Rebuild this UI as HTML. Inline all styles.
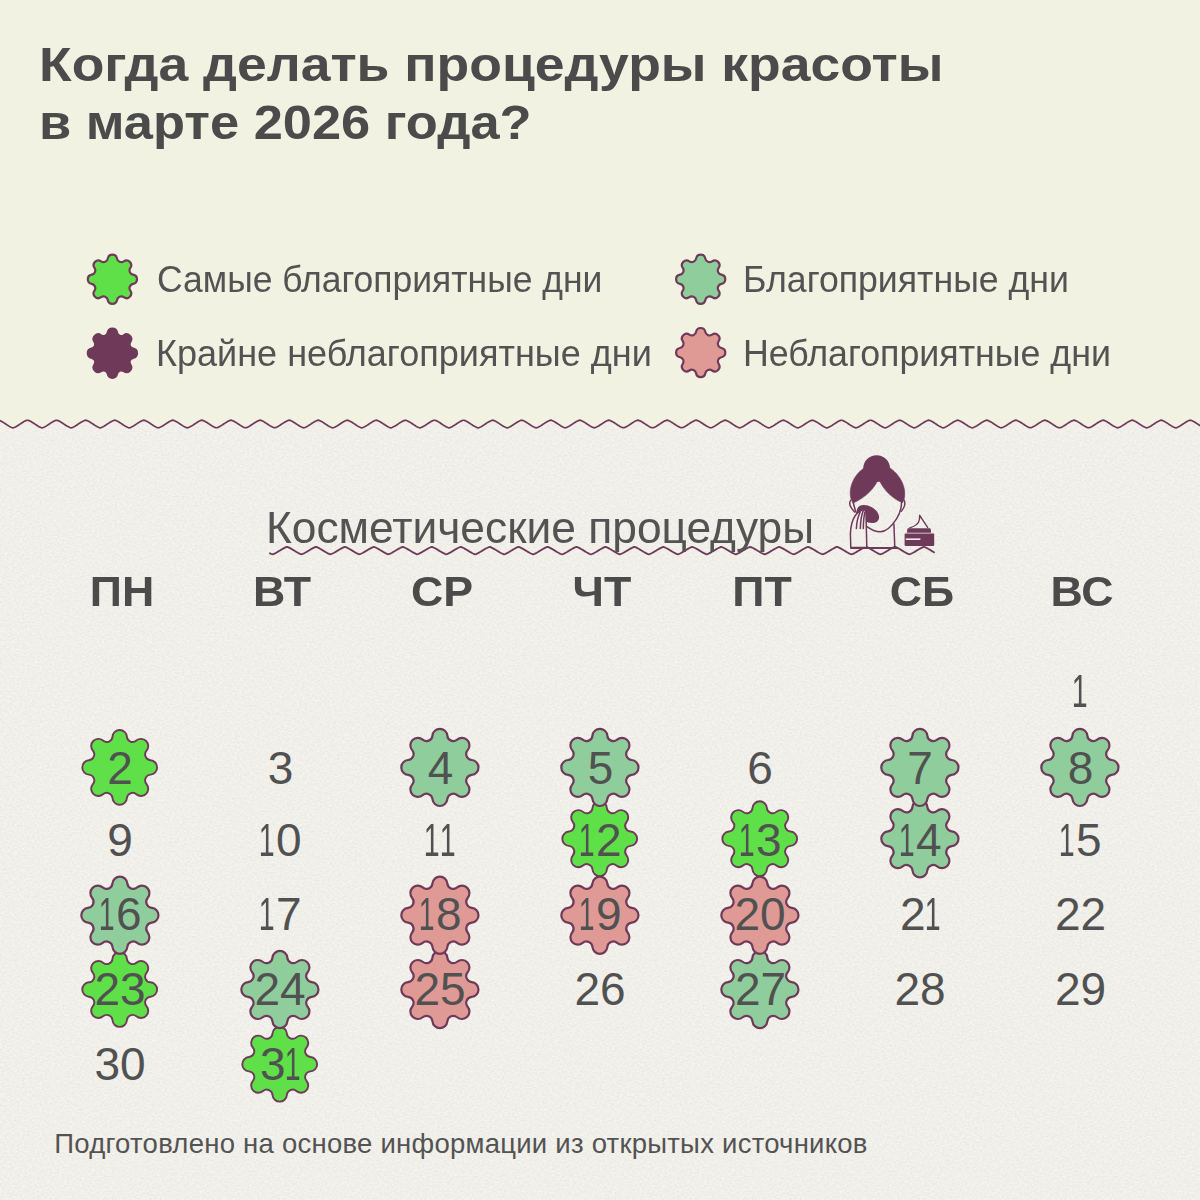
<!DOCTYPE html>
<html lang="ru"><head><meta charset="utf-8"><title>Когда делать процедуры красоты в марте 2026 года?</title>
<style>
html,body{margin:0;padding:0}
body{width:1200px;height:1200px;position:relative;overflow:hidden;background:#f1f2e2;font-family:"Liberation Sans",sans-serif;color:#4b4b4b}
svg.l{position:absolute;left:0;top:0}
.t{position:absolute;white-space:nowrap;transform-origin:0 0;line-height:1}
.wd{position:absolute;top:569.76px;width:100px;text-align:center;font-weight:bold;font-size:43px;line-height:1;white-space:nowrap;transform:scaleX(1.04)}
.o{display:inline-block;transform:scaleX(.62);margin:0 -4px 0 -6px}
.n{position:absolute;color:#515151;width:100px;line-height:1;text-align:center;font-size:46px;white-space:nowrap}
</style></head><body>
<svg class="l" width="1200" height="1200" viewBox="0 0 1200 1200">
<defs><filter id="paper" x="0" y="0" width="100%" height="100%" color-interpolation-filters="sRGB"><feTurbulence type="fractalNoise" baseFrequency="0.4 0.55" numOctaves="2" seed="7"/><feColorMatrix type="matrix" values="0.08 0 0 0 0.905  0.08 0 0 0 0.897  0.08 0 0 0 0.874  0 0 0 0 1"/></filter>
<clipPath id="botclip"><path d="M-2.0,420.23 L-1.0,420.28 L0.0,420.66 L1.0,421.12 L2.0,421.65 L3.0,422.24 L4.0,422.87 L5.0,423.53 L6.0,424.20 L7.0,424.87 L8.0,425.52 L9.0,426.12 L10.0,426.68 L11.0,427.16 L12.0,427.58 L13.0,427.89 L14.0,427.55 L15.0,427.13 L16.0,426.64 L17.0,426.08 L18.0,425.47 L19.0,424.83 L20.0,424.16 L21.0,423.48 L22.0,422.82 L23.0,422.19 L24.0,421.61 L25.0,421.09 L26.0,420.63 L27.0,420.26 L28.0,420.26 L29.0,420.63 L30.0,421.09 L31.0,421.61 L32.0,422.19 L33.0,422.82 L34.0,423.48 L35.0,424.16 L36.0,424.83 L37.0,425.47 L38.0,426.08 L39.0,426.64 L40.0,427.13 L41.0,427.55 L42.0,427.89 L43.0,427.58 L44.0,427.16 L45.0,426.68 L46.0,426.12 L47.0,425.52 L48.0,424.87 L49.0,424.20 L50.0,423.53 L51.0,422.87 L52.0,422.24 L53.0,421.65 L54.0,421.12 L55.0,420.66 L56.0,420.28 L57.0,420.23 L58.0,420.61 L59.0,421.05 L60.0,421.57 L61.0,422.15 L62.0,422.78 L63.0,423.44 L64.0,424.11 L65.0,424.78 L66.0,425.43 L67.0,426.04 L68.0,426.60 L69.0,427.10 L70.0,427.52 L71.0,427.87 L72.0,427.60 L73.0,427.20 L74.0,426.71 L75.0,426.16 L76.0,425.56 L77.0,424.92 L78.0,424.25 L79.0,423.58 L80.0,422.91 L81.0,422.28 L82.0,421.69 L83.0,421.16 L84.0,420.69 L85.0,420.31 L86.0,420.21 L87.0,420.58 L88.0,421.02 L89.0,421.53 L90.0,422.11 L91.0,422.73 L92.0,423.39 L93.0,424.06 L94.0,424.73 L95.0,425.38 L96.0,426.00 L97.0,426.57 L98.0,427.07 L99.0,427.50 L100.0,427.85 L101.0,427.63 L102.0,427.23 L103.0,426.75 L104.0,426.20 L105.0,425.60 L106.0,424.96 L107.0,424.30 L108.0,423.62 L109.0,422.96 L110.0,422.32 L111.0,421.73 L112.0,421.19 L113.0,420.72 L114.0,420.33 L115.0,420.19 L116.0,420.55 L117.0,420.99 L118.0,421.50 L119.0,422.07 L120.0,422.69 L121.0,423.34 L122.0,424.02 L123.0,424.69 L124.0,425.34 L125.0,425.96 L126.0,426.53 L127.0,427.03 L128.0,427.47 L129.0,427.83 L130.0,427.65 L131.0,427.26 L132.0,426.78 L133.0,426.24 L134.0,425.65 L135.0,425.01 L136.0,424.35 L137.0,423.67 L138.0,423.01 L139.0,422.37 L140.0,421.77 L141.0,421.23 L142.0,420.75 L143.0,420.36 L144.0,420.17 L145.0,420.52 L146.0,420.95 L147.0,421.46 L148.0,422.03 L149.0,422.64 L150.0,423.30 L151.0,423.97 L152.0,424.64 L153.0,425.30 L154.0,425.92 L155.0,426.49 L156.0,427.00 L157.0,427.44 L158.0,427.80 L159.0,427.68 L160.0,427.29 L161.0,426.82 L162.0,426.28 L163.0,425.69 L164.0,425.06 L165.0,424.39 L166.0,423.72 L167.0,423.05 L168.0,422.41 L169.0,421.81 L170.0,421.26 L171.0,420.78 L172.0,420.38 L173.0,420.15 L174.0,420.49 L175.0,420.92 L176.0,421.42 L177.0,421.98 L178.0,422.60 L179.0,423.25 L180.0,423.92 L181.0,424.59 L182.0,425.25 L183.0,425.87 L184.0,426.45 L185.0,426.97 L186.0,427.41 L187.0,427.78 L188.0,427.70 L189.0,427.32 L190.0,426.86 L191.0,426.32 L192.0,425.73 L193.0,425.10 L194.0,424.44 L195.0,423.77 L196.0,423.10 L197.0,422.45 L198.0,421.85 L199.0,421.30 L200.0,420.82 L201.0,420.41 L202.0,420.12 L203.0,420.47 L204.0,420.89 L205.0,421.38 L206.0,421.94 L207.0,422.56 L208.0,423.20 L209.0,423.87 L210.0,424.55 L211.0,425.21 L212.0,425.83 L213.0,426.41 L214.0,426.93 L215.0,427.38 L216.0,427.76 L217.0,427.73 L218.0,427.35 L219.0,426.89 L220.0,426.36 L221.0,425.78 L222.0,425.15 L223.0,424.49 L224.0,423.81 L225.0,423.14 L226.0,422.50 L227.0,421.89 L228.0,421.34 L229.0,420.85 L230.0,420.43 L231.0,420.10 L232.0,420.44 L233.0,420.86 L234.0,421.35 L235.0,421.90 L236.0,422.51 L237.0,423.16 L238.0,423.83 L239.0,424.50 L240.0,425.16 L241.0,425.79 L242.0,426.37 L243.0,426.90 L244.0,427.36 L245.0,427.73 L246.0,427.75 L247.0,427.38 L248.0,426.92 L249.0,426.40 L250.0,425.82 L251.0,425.19 L252.0,424.53 L253.0,423.86 L254.0,423.19 L255.0,422.54 L256.0,421.93 L257.0,421.37 L258.0,420.88 L259.0,420.46 L260.0,420.12 L261.0,420.41 L262.0,420.82 L263.0,421.31 L264.0,421.86 L265.0,422.47 L266.0,423.11 L267.0,423.78 L268.0,424.45 L269.0,425.11 L270.0,425.75 L271.0,426.34 L272.0,426.87 L273.0,427.33 L274.0,427.71 L275.0,427.77 L276.0,427.41 L277.0,426.96 L278.0,426.44 L279.0,425.86 L280.0,425.24 L281.0,424.58 L282.0,423.91 L283.0,423.24 L284.0,422.59 L285.0,421.97 L286.0,421.41 L287.0,420.91 L288.0,420.49 L289.0,420.14 L290.0,420.39 L291.0,420.79 L292.0,421.27 L293.0,421.82 L294.0,422.42 L295.0,423.07 L296.0,423.73 L297.0,424.41 L298.0,425.07 L299.0,425.70 L300.0,426.30 L301.0,426.83 L302.0,427.30 L303.0,427.69 L304.0,427.80 L305.0,427.43 L306.0,426.99 L307.0,426.48 L308.0,425.90 L309.0,425.28 L310.0,424.63 L311.0,423.95 L312.0,423.28 L313.0,422.63 L314.0,422.01 L315.0,421.45 L316.0,420.94 L317.0,420.51 L318.0,420.16 L319.0,420.36 L320.0,420.76 L321.0,421.24 L322.0,421.78 L323.0,422.38 L324.0,423.02 L325.0,423.68 L326.0,424.36 L327.0,425.02 L328.0,425.66 L329.0,426.26 L330.0,426.79 L331.0,427.27 L332.0,427.66 L333.0,427.82 L334.0,427.46 L335.0,427.03 L336.0,426.52 L337.0,425.95 L338.0,425.33 L339.0,424.67 L340.0,424.00 L341.0,423.33 L342.0,422.68 L343.0,422.06 L344.0,421.49 L345.0,420.98 L346.0,420.54 L347.0,420.18 L348.0,420.34 L349.0,420.73 L350.0,421.20 L351.0,421.74 L352.0,422.34 L353.0,422.97 L354.0,423.64 L355.0,424.31 L356.0,424.98 L357.0,425.62 L358.0,426.22 L359.0,426.76 L360.0,427.24 L361.0,427.64 L362.0,427.84 L363.0,427.49 L364.0,427.06 L365.0,426.55 L366.0,425.99 L367.0,425.37 L368.0,424.72 L369.0,424.05 L370.0,423.38 L371.0,422.72 L372.0,422.10 L373.0,421.52 L374.0,421.01 L375.0,420.57 L376.0,420.21 L377.0,420.31 L378.0,420.70 L379.0,421.17 L380.0,421.70 L381.0,422.29 L382.0,422.93 L383.0,423.59 L384.0,424.26 L385.0,424.93 L386.0,425.57 L387.0,426.18 L388.0,426.72 L389.0,427.20 L390.0,427.61 L391.0,427.86 L392.0,427.52 L393.0,427.09 L394.0,426.59 L395.0,426.03 L396.0,425.42 L397.0,424.77 L398.0,424.10 L399.0,423.42 L400.0,422.77 L401.0,422.14 L402.0,421.56 L403.0,421.04 L404.0,420.60 L405.0,420.23 L406.0,420.29 L407.0,420.67 L408.0,421.13 L409.0,421.66 L410.0,422.25 L411.0,422.88 L412.0,423.54 L413.0,424.22 L414.0,424.89 L415.0,425.53 L416.0,426.14 L417.0,426.69 L418.0,427.17 L419.0,427.58 L420.0,427.88 L421.0,427.54 L422.0,427.12 L423.0,426.63 L424.0,426.07 L425.0,425.46 L426.0,424.81 L427.0,424.14 L428.0,423.47 L429.0,422.81 L430.0,422.18 L431.0,421.60 L432.0,421.08 L433.0,420.63 L434.0,420.25 L435.0,420.26 L436.0,420.64 L437.0,421.10 L438.0,421.62 L439.0,422.21 L440.0,422.84 L441.0,423.50 L442.0,424.17 L443.0,424.84 L444.0,425.49 L445.0,426.09 L446.0,426.65 L447.0,427.14 L448.0,427.56 L449.0,427.90 L450.0,427.57 L451.0,427.16 L452.0,426.67 L453.0,426.11 L454.0,425.50 L455.0,424.86 L456.0,424.19 L457.0,423.52 L458.0,422.86 L459.0,422.23 L460.0,421.64 L461.0,421.11 L462.0,420.66 L463.0,420.27 L464.0,420.24 L465.0,420.61 L466.0,421.06 L467.0,421.58 L468.0,422.16 L469.0,422.79 L470.0,423.45 L471.0,424.12 L472.0,424.79 L473.0,425.44 L474.0,426.05 L475.0,426.61 L476.0,427.11 L477.0,427.53 L478.0,427.87 L479.0,427.60 L480.0,427.19 L481.0,426.70 L482.0,426.15 L483.0,425.55 L484.0,424.90 L485.0,424.24 L486.0,423.56 L487.0,422.90 L488.0,422.27 L489.0,421.68 L490.0,421.15 L491.0,420.68 L492.0,420.30 L493.0,420.22 L494.0,420.58 L495.0,421.03 L496.0,421.55 L497.0,422.12 L498.0,422.75 L499.0,423.40 L500.0,424.08 L501.0,424.75 L502.0,425.40 L503.0,426.01 L504.0,426.58 L505.0,427.08 L506.0,427.50 L507.0,427.85 L508.0,427.62 L509.0,427.22 L510.0,426.74 L511.0,426.19 L512.0,425.59 L513.0,424.95 L514.0,424.28 L515.0,423.61 L516.0,422.95 L517.0,422.31 L518.0,421.72 L519.0,421.18 L520.0,420.71 L521.0,420.32 L522.0,420.20 L523.0,420.56 L524.0,421.00 L525.0,421.51 L526.0,422.08 L527.0,422.70 L528.0,423.36 L529.0,424.03 L530.0,424.70 L531.0,425.35 L532.0,425.97 L533.0,426.54 L534.0,427.04 L535.0,427.48 L536.0,427.83 L537.0,427.65 L538.0,427.25 L539.0,426.77 L540.0,426.23 L541.0,425.64 L542.0,425.00 L543.0,424.33 L544.0,423.66 L545.0,422.99 L546.0,422.35 L547.0,421.76 L548.0,421.22 L549.0,420.74 L550.0,420.35 L551.0,420.17 L552.0,420.53 L553.0,420.96 L554.0,421.47 L555.0,422.04 L556.0,422.66 L557.0,423.31 L558.0,423.98 L559.0,424.65 L560.0,425.31 L561.0,425.93 L562.0,426.50 L563.0,427.01 L564.0,427.45 L565.0,427.81 L566.0,427.67 L567.0,427.28 L568.0,426.81 L569.0,426.27 L570.0,425.68 L571.0,425.04 L572.0,424.38 L573.0,423.71 L574.0,423.04 L575.0,422.40 L576.0,421.80 L577.0,421.25 L578.0,420.78 L579.0,420.37 L580.0,420.15 L581.0,420.50 L582.0,420.93 L583.0,421.43 L584.0,422.00 L585.0,422.61 L586.0,423.26 L587.0,423.93 L588.0,424.61 L589.0,425.26 L590.0,425.89 L591.0,426.46 L592.0,426.98 L593.0,427.42 L594.0,427.79 L595.0,427.70 L596.0,427.31 L597.0,426.85 L598.0,426.31 L599.0,425.72 L600.0,425.09 L601.0,424.43 L602.0,423.75 L603.0,423.09 L604.0,422.44 L605.0,421.84 L606.0,421.29 L607.0,420.81 L608.0,420.40 L609.0,420.13 L610.0,420.47 L611.0,420.90 L612.0,421.39 L613.0,421.96 L614.0,422.57 L615.0,423.22 L616.0,423.89 L617.0,424.56 L618.0,425.22 L619.0,425.84 L620.0,426.42 L621.0,426.94 L622.0,427.39 L623.0,427.76 L624.0,427.72 L625.0,427.34 L626.0,426.88 L627.0,426.35 L628.0,425.77 L629.0,425.13 L630.0,424.47 L631.0,423.80 L632.0,423.13 L633.0,422.49 L634.0,421.88 L635.0,421.33 L636.0,420.84 L637.0,420.42 L638.0,420.11 L639.0,420.45 L640.0,420.87 L641.0,421.36 L642.0,421.91 L643.0,422.52 L644.0,423.17 L645.0,423.84 L646.0,424.51 L647.0,425.17 L648.0,425.80 L649.0,426.39 L650.0,426.91 L651.0,427.36 L652.0,427.74 L653.0,427.74 L654.0,427.37 L655.0,426.91 L656.0,426.39 L657.0,425.81 L658.0,425.18 L659.0,424.52 L660.0,423.85 L661.0,423.18 L662.0,422.53 L663.0,421.92 L664.0,421.36 L665.0,420.87 L666.0,420.45 L667.0,420.11 L668.0,420.42 L669.0,420.83 L670.0,421.32 L671.0,421.87 L672.0,422.48 L673.0,423.12 L674.0,423.79 L675.0,424.47 L676.0,425.13 L677.0,425.76 L678.0,426.35 L679.0,426.88 L680.0,427.33 L681.0,427.72 L682.0,427.77 L683.0,427.40 L684.0,426.95 L685.0,426.43 L686.0,425.85 L687.0,425.22 L688.0,424.57 L689.0,423.89 L690.0,423.22 L691.0,422.57 L692.0,421.96 L693.0,421.40 L694.0,420.90 L695.0,420.48 L696.0,420.13 L697.0,420.40 L698.0,420.80 L699.0,421.28 L700.0,421.83 L701.0,422.44 L702.0,423.08 L703.0,423.75 L704.0,424.42 L705.0,425.08 L706.0,425.72 L707.0,426.31 L708.0,426.84 L709.0,427.30 L710.0,427.69 L711.0,427.79 L712.0,427.43 L713.0,426.98 L714.0,426.47 L715.0,425.89 L716.0,425.27 L717.0,424.61 L718.0,423.94 L719.0,423.27 L720.0,422.62 L721.0,422.00 L722.0,421.44 L723.0,420.93 L724.0,420.51 L725.0,420.15 L726.0,420.37 L727.0,420.77 L728.0,421.25 L729.0,421.79 L730.0,422.39 L731.0,423.03 L732.0,423.70 L733.0,424.37 L734.0,425.04 L735.0,425.67 L736.0,426.27 L737.0,426.81 L738.0,427.27 L739.0,427.67 L740.0,427.81 L741.0,427.45 L742.0,427.02 L743.0,426.51 L744.0,425.93 L745.0,425.31 L746.0,424.66 L747.0,423.99 L748.0,423.32 L749.0,422.66 L750.0,422.04 L751.0,421.47 L752.0,420.97 L753.0,420.53 L754.0,420.18 L755.0,420.34 L756.0,420.74 L757.0,421.21 L758.0,421.75 L759.0,422.35 L760.0,422.99 L761.0,423.65 L762.0,424.33 L763.0,424.99 L764.0,425.63 L765.0,426.23 L766.0,426.77 L767.0,427.24 L768.0,427.64 L769.0,427.83 L770.0,427.48 L771.0,427.05 L772.0,426.54 L773.0,425.98 L774.0,425.36 L775.0,424.71 L776.0,424.04 L777.0,423.36 L778.0,422.71 L779.0,422.09 L780.0,421.51 L781.0,421.00 L782.0,420.56 L783.0,420.20 L784.0,420.32 L785.0,420.71 L786.0,421.18 L787.0,421.71 L788.0,422.31 L789.0,422.94 L790.0,423.60 L791.0,424.28 L792.0,424.94 L793.0,425.59 L794.0,426.19 L795.0,426.73 L796.0,427.21 L797.0,427.62 L798.0,427.86 L799.0,427.51 L800.0,427.08 L801.0,426.58 L802.0,426.02 L803.0,425.40 L804.0,424.75 L805.0,424.08 L806.0,423.41 L807.0,422.75 L808.0,422.13 L809.0,421.55 L810.0,421.03 L811.0,420.59 L812.0,420.22 L813.0,420.30 L814.0,420.68 L815.0,421.14 L816.0,421.67 L817.0,422.26 L818.0,422.90 L819.0,423.56 L820.0,424.23 L821.0,424.90 L822.0,425.54 L823.0,426.15 L824.0,426.70 L825.0,427.18 L826.0,427.59 L827.0,427.88 L828.0,427.54 L829.0,427.11 L830.0,426.62 L831.0,426.06 L832.0,425.45 L833.0,424.80 L834.0,424.13 L835.0,423.46 L836.0,422.80 L837.0,422.17 L838.0,421.59 L839.0,421.07 L840.0,420.62 L841.0,420.24 L842.0,420.27 L843.0,420.65 L844.0,421.11 L845.0,421.63 L846.0,422.22 L847.0,422.85 L848.0,423.51 L849.0,424.18 L850.0,424.85 L851.0,425.50 L852.0,426.11 L853.0,426.66 L854.0,427.15 L855.0,427.57 L856.0,427.90 L857.0,427.56 L858.0,427.15 L859.0,426.66 L860.0,426.10 L861.0,425.49 L862.0,424.85 L863.0,424.18 L864.0,423.50 L865.0,422.84 L866.0,422.21 L867.0,421.63 L868.0,421.10 L869.0,420.65 L870.0,420.27 L871.0,420.25 L872.0,420.62 L873.0,421.07 L874.0,421.60 L875.0,422.18 L876.0,422.80 L877.0,423.46 L878.0,424.14 L879.0,424.81 L880.0,425.45 L881.0,426.07 L882.0,426.62 L883.0,427.12 L884.0,427.54 L885.0,427.88 L886.0,427.59 L887.0,427.18 L888.0,426.69 L889.0,426.14 L890.0,425.54 L891.0,424.89 L892.0,424.22 L893.0,423.55 L894.0,422.89 L895.0,422.26 L896.0,421.67 L897.0,421.14 L898.0,420.68 L899.0,420.29 L900.0,420.22 L901.0,420.59 L902.0,421.04 L903.0,421.56 L904.0,422.13 L905.0,422.76 L906.0,423.42 L907.0,424.09 L908.0,424.76 L909.0,425.41 L910.0,426.02 L911.0,426.59 L912.0,427.09 L913.0,427.51 L914.0,427.86 L915.0,427.61 L916.0,427.21 L917.0,426.73 L918.0,426.18 L919.0,425.58 L920.0,424.94 L921.0,424.27 L922.0,423.60 L923.0,422.93 L924.0,422.30 L925.0,421.71 L926.0,421.17 L927.0,420.71 L928.0,420.32 L929.0,420.20 L930.0,420.56 L931.0,421.01 L932.0,421.52 L933.0,422.09 L934.0,422.71 L935.0,423.37 L936.0,424.04 L937.0,424.71 L938.0,425.37 L939.0,425.98 L940.0,426.55 L941.0,427.05 L942.0,427.49 L943.0,427.84 L944.0,427.64 L945.0,427.24 L946.0,426.76 L947.0,426.22 L948.0,425.62 L949.0,424.98 L950.0,424.32 L951.0,423.64 L952.0,422.98 L953.0,422.34 L954.0,421.75 L955.0,421.21 L956.0,420.74 L957.0,420.34 L958.0,420.18 L959.0,420.54 L960.0,420.97 L961.0,421.48 L962.0,422.05 L963.0,422.67 L964.0,423.32 L965.0,423.99 L966.0,424.67 L967.0,425.32 L968.0,425.94 L969.0,426.51 L970.0,427.02 L971.0,427.46 L972.0,427.82 L973.0,427.66 L974.0,427.27 L975.0,426.80 L976.0,426.26 L977.0,425.67 L978.0,425.03 L979.0,424.37 L980.0,423.69 L981.0,423.03 L982.0,422.39 L983.0,421.79 L984.0,421.24 L985.0,420.77 L986.0,420.37 L987.0,420.16 L988.0,420.51 L989.0,420.94 L990.0,421.44 L991.0,422.01 L992.0,422.62 L993.0,423.28 L994.0,423.95 L995.0,424.62 L996.0,425.28 L997.0,425.90 L998.0,426.47 L999.0,426.99 L1000.0,427.43 L1001.0,427.79 L1002.0,427.69 L1003.0,427.30 L1004.0,426.84 L1005.0,426.30 L1006.0,425.71 L1007.0,425.08 L1008.0,424.41 L1009.0,423.74 L1010.0,423.07 L1011.0,422.43 L1012.0,421.83 L1013.0,421.28 L1014.0,420.80 L1015.0,420.39 L1016.0,420.14 L1017.0,420.48 L1018.0,420.91 L1019.0,421.41 L1020.0,421.97 L1021.0,422.58 L1022.0,423.23 L1023.0,423.90 L1024.0,424.57 L1025.0,425.23 L1026.0,425.86 L1027.0,426.44 L1028.0,426.95 L1029.0,427.40 L1030.0,427.77 L1031.0,427.71 L1032.0,427.33 L1033.0,426.87 L1034.0,426.34 L1035.0,425.75 L1036.0,425.12 L1037.0,424.46 L1038.0,423.79 L1039.0,423.12 L1040.0,422.47 L1041.0,421.87 L1042.0,421.32 L1043.0,420.83 L1044.0,420.42 L1045.0,420.11 L1046.0,420.45 L1047.0,420.87 L1048.0,421.37 L1049.0,421.93 L1050.0,422.54 L1051.0,423.18 L1052.0,423.85 L1053.0,424.53 L1054.0,425.19 L1055.0,425.81 L1056.0,426.40 L1057.0,426.92 L1058.0,427.37 L1059.0,427.75 L1060.0,427.74 L1061.0,427.36 L1062.0,426.90 L1063.0,426.38 L1064.0,425.80 L1065.0,425.17 L1066.0,424.51 L1067.0,423.83 L1068.0,423.16 L1069.0,422.52 L1070.0,421.91 L1071.0,421.35 L1072.0,420.86 L1073.0,420.44 L1074.0,420.11 L1075.0,420.43 L1076.0,420.84 L1077.0,421.33 L1078.0,421.88 L1079.0,422.49 L1080.0,423.14 L1081.0,423.81 L1082.0,424.48 L1083.0,425.14 L1084.0,425.77 L1085.0,426.36 L1086.0,426.89 L1087.0,427.34 L1088.0,427.72 L1089.0,427.76 L1090.0,427.39 L1091.0,426.94 L1092.0,426.42 L1093.0,425.84 L1094.0,425.21 L1095.0,424.55 L1096.0,423.88 L1097.0,423.21 L1098.0,422.56 L1099.0,421.95 L1100.0,421.39 L1101.0,420.89 L1102.0,420.47 L1103.0,420.13 L1104.0,420.40 L1105.0,420.81 L1106.0,421.29 L1107.0,421.84 L1108.0,422.45 L1109.0,423.09 L1110.0,423.76 L1111.0,424.43 L1112.0,425.09 L1113.0,425.73 L1114.0,426.32 L1115.0,426.85 L1116.0,427.31 L1117.0,427.70 L1118.0,427.78 L1119.0,427.42 L1120.0,426.97 L1121.0,426.46 L1122.0,425.88 L1123.0,425.26 L1124.0,424.60 L1125.0,423.93 L1126.0,423.26 L1127.0,422.61 L1128.0,421.99 L1129.0,421.43 L1130.0,420.93 L1131.0,420.50 L1132.0,420.15 L1133.0,420.38 L1134.0,420.78 L1135.0,421.26 L1136.0,421.80 L1137.0,422.40 L1138.0,423.05 L1139.0,423.71 L1140.0,424.39 L1141.0,425.05 L1142.0,425.69 L1143.0,426.28 L1144.0,426.82 L1145.0,427.28 L1146.0,427.68 L1147.0,427.81 L1148.0,427.45 L1149.0,427.01 L1150.0,426.50 L1151.0,425.92 L1152.0,425.30 L1153.0,424.65 L1154.0,423.97 L1155.0,423.30 L1156.0,422.65 L1157.0,422.03 L1158.0,421.46 L1159.0,420.96 L1160.0,420.52 L1161.0,420.17 L1162.0,420.35 L1163.0,420.75 L1164.0,421.22 L1165.0,421.76 L1166.0,422.36 L1167.0,423.00 L1168.0,423.66 L1169.0,424.34 L1170.0,425.00 L1171.0,425.64 L1172.0,426.24 L1173.0,426.78 L1174.0,427.25 L1175.0,427.65 L1176.0,427.83 L1177.0,427.47 L1178.0,427.04 L1179.0,426.53 L1180.0,425.96 L1181.0,425.35 L1182.0,424.69 L1183.0,424.02 L1184.0,423.35 L1185.0,422.70 L1186.0,422.07 L1187.0,421.50 L1188.0,420.99 L1189.0,420.55 L1190.0,420.19 L1191.0,420.33 L1192.0,420.72 L1193.0,421.19 L1194.0,421.72 L1195.0,422.32 L1196.0,422.95 L1197.0,423.62 L1198.0,424.29 L1199.0,424.96 L1200.0,425.60 L1201.0,426.20 L1202.0,426.74 L1202,1202 L-2,1202 Z"/></clipPath></defs>
<g clip-path="url(#botclip)"><rect x="0" y="410" width="1200" height="790" fill="#f1efe9"/><rect x="0" y="410" width="1200" height="790" filter="url(#paper)"/></g>
<path d="M-2.0,420.23 L-1.0,420.28 L0.0,420.66 L1.0,421.12 L2.0,421.65 L3.0,422.24 L4.0,422.87 L5.0,423.53 L6.0,424.20 L7.0,424.87 L8.0,425.52 L9.0,426.12 L10.0,426.68 L11.0,427.16 L12.0,427.58 L13.0,427.89 L14.0,427.55 L15.0,427.13 L16.0,426.64 L17.0,426.08 L18.0,425.47 L19.0,424.83 L20.0,424.16 L21.0,423.48 L22.0,422.82 L23.0,422.19 L24.0,421.61 L25.0,421.09 L26.0,420.63 L27.0,420.26 L28.0,420.26 L29.0,420.63 L30.0,421.09 L31.0,421.61 L32.0,422.19 L33.0,422.82 L34.0,423.48 L35.0,424.16 L36.0,424.83 L37.0,425.47 L38.0,426.08 L39.0,426.64 L40.0,427.13 L41.0,427.55 L42.0,427.89 L43.0,427.58 L44.0,427.16 L45.0,426.68 L46.0,426.12 L47.0,425.52 L48.0,424.87 L49.0,424.20 L50.0,423.53 L51.0,422.87 L52.0,422.24 L53.0,421.65 L54.0,421.12 L55.0,420.66 L56.0,420.28 L57.0,420.23 L58.0,420.61 L59.0,421.05 L60.0,421.57 L61.0,422.15 L62.0,422.78 L63.0,423.44 L64.0,424.11 L65.0,424.78 L66.0,425.43 L67.0,426.04 L68.0,426.60 L69.0,427.10 L70.0,427.52 L71.0,427.87 L72.0,427.60 L73.0,427.20 L74.0,426.71 L75.0,426.16 L76.0,425.56 L77.0,424.92 L78.0,424.25 L79.0,423.58 L80.0,422.91 L81.0,422.28 L82.0,421.69 L83.0,421.16 L84.0,420.69 L85.0,420.31 L86.0,420.21 L87.0,420.58 L88.0,421.02 L89.0,421.53 L90.0,422.11 L91.0,422.73 L92.0,423.39 L93.0,424.06 L94.0,424.73 L95.0,425.38 L96.0,426.00 L97.0,426.57 L98.0,427.07 L99.0,427.50 L100.0,427.85 L101.0,427.63 L102.0,427.23 L103.0,426.75 L104.0,426.20 L105.0,425.60 L106.0,424.96 L107.0,424.30 L108.0,423.62 L109.0,422.96 L110.0,422.32 L111.0,421.73 L112.0,421.19 L113.0,420.72 L114.0,420.33 L115.0,420.19 L116.0,420.55 L117.0,420.99 L118.0,421.50 L119.0,422.07 L120.0,422.69 L121.0,423.34 L122.0,424.02 L123.0,424.69 L124.0,425.34 L125.0,425.96 L126.0,426.53 L127.0,427.03 L128.0,427.47 L129.0,427.83 L130.0,427.65 L131.0,427.26 L132.0,426.78 L133.0,426.24 L134.0,425.65 L135.0,425.01 L136.0,424.35 L137.0,423.67 L138.0,423.01 L139.0,422.37 L140.0,421.77 L141.0,421.23 L142.0,420.75 L143.0,420.36 L144.0,420.17 L145.0,420.52 L146.0,420.95 L147.0,421.46 L148.0,422.03 L149.0,422.64 L150.0,423.30 L151.0,423.97 L152.0,424.64 L153.0,425.30 L154.0,425.92 L155.0,426.49 L156.0,427.00 L157.0,427.44 L158.0,427.80 L159.0,427.68 L160.0,427.29 L161.0,426.82 L162.0,426.28 L163.0,425.69 L164.0,425.06 L165.0,424.39 L166.0,423.72 L167.0,423.05 L168.0,422.41 L169.0,421.81 L170.0,421.26 L171.0,420.78 L172.0,420.38 L173.0,420.15 L174.0,420.49 L175.0,420.92 L176.0,421.42 L177.0,421.98 L178.0,422.60 L179.0,423.25 L180.0,423.92 L181.0,424.59 L182.0,425.25 L183.0,425.87 L184.0,426.45 L185.0,426.97 L186.0,427.41 L187.0,427.78 L188.0,427.70 L189.0,427.32 L190.0,426.86 L191.0,426.32 L192.0,425.73 L193.0,425.10 L194.0,424.44 L195.0,423.77 L196.0,423.10 L197.0,422.45 L198.0,421.85 L199.0,421.30 L200.0,420.82 L201.0,420.41 L202.0,420.12 L203.0,420.47 L204.0,420.89 L205.0,421.38 L206.0,421.94 L207.0,422.56 L208.0,423.20 L209.0,423.87 L210.0,424.55 L211.0,425.21 L212.0,425.83 L213.0,426.41 L214.0,426.93 L215.0,427.38 L216.0,427.76 L217.0,427.73 L218.0,427.35 L219.0,426.89 L220.0,426.36 L221.0,425.78 L222.0,425.15 L223.0,424.49 L224.0,423.81 L225.0,423.14 L226.0,422.50 L227.0,421.89 L228.0,421.34 L229.0,420.85 L230.0,420.43 L231.0,420.10 L232.0,420.44 L233.0,420.86 L234.0,421.35 L235.0,421.90 L236.0,422.51 L237.0,423.16 L238.0,423.83 L239.0,424.50 L240.0,425.16 L241.0,425.79 L242.0,426.37 L243.0,426.90 L244.0,427.36 L245.0,427.73 L246.0,427.75 L247.0,427.38 L248.0,426.92 L249.0,426.40 L250.0,425.82 L251.0,425.19 L252.0,424.53 L253.0,423.86 L254.0,423.19 L255.0,422.54 L256.0,421.93 L257.0,421.37 L258.0,420.88 L259.0,420.46 L260.0,420.12 L261.0,420.41 L262.0,420.82 L263.0,421.31 L264.0,421.86 L265.0,422.47 L266.0,423.11 L267.0,423.78 L268.0,424.45 L269.0,425.11 L270.0,425.75 L271.0,426.34 L272.0,426.87 L273.0,427.33 L274.0,427.71 L275.0,427.77 L276.0,427.41 L277.0,426.96 L278.0,426.44 L279.0,425.86 L280.0,425.24 L281.0,424.58 L282.0,423.91 L283.0,423.24 L284.0,422.59 L285.0,421.97 L286.0,421.41 L287.0,420.91 L288.0,420.49 L289.0,420.14 L290.0,420.39 L291.0,420.79 L292.0,421.27 L293.0,421.82 L294.0,422.42 L295.0,423.07 L296.0,423.73 L297.0,424.41 L298.0,425.07 L299.0,425.70 L300.0,426.30 L301.0,426.83 L302.0,427.30 L303.0,427.69 L304.0,427.80 L305.0,427.43 L306.0,426.99 L307.0,426.48 L308.0,425.90 L309.0,425.28 L310.0,424.63 L311.0,423.95 L312.0,423.28 L313.0,422.63 L314.0,422.01 L315.0,421.45 L316.0,420.94 L317.0,420.51 L318.0,420.16 L319.0,420.36 L320.0,420.76 L321.0,421.24 L322.0,421.78 L323.0,422.38 L324.0,423.02 L325.0,423.68 L326.0,424.36 L327.0,425.02 L328.0,425.66 L329.0,426.26 L330.0,426.79 L331.0,427.27 L332.0,427.66 L333.0,427.82 L334.0,427.46 L335.0,427.03 L336.0,426.52 L337.0,425.95 L338.0,425.33 L339.0,424.67 L340.0,424.00 L341.0,423.33 L342.0,422.68 L343.0,422.06 L344.0,421.49 L345.0,420.98 L346.0,420.54 L347.0,420.18 L348.0,420.34 L349.0,420.73 L350.0,421.20 L351.0,421.74 L352.0,422.34 L353.0,422.97 L354.0,423.64 L355.0,424.31 L356.0,424.98 L357.0,425.62 L358.0,426.22 L359.0,426.76 L360.0,427.24 L361.0,427.64 L362.0,427.84 L363.0,427.49 L364.0,427.06 L365.0,426.55 L366.0,425.99 L367.0,425.37 L368.0,424.72 L369.0,424.05 L370.0,423.38 L371.0,422.72 L372.0,422.10 L373.0,421.52 L374.0,421.01 L375.0,420.57 L376.0,420.21 L377.0,420.31 L378.0,420.70 L379.0,421.17 L380.0,421.70 L381.0,422.29 L382.0,422.93 L383.0,423.59 L384.0,424.26 L385.0,424.93 L386.0,425.57 L387.0,426.18 L388.0,426.72 L389.0,427.20 L390.0,427.61 L391.0,427.86 L392.0,427.52 L393.0,427.09 L394.0,426.59 L395.0,426.03 L396.0,425.42 L397.0,424.77 L398.0,424.10 L399.0,423.42 L400.0,422.77 L401.0,422.14 L402.0,421.56 L403.0,421.04 L404.0,420.60 L405.0,420.23 L406.0,420.29 L407.0,420.67 L408.0,421.13 L409.0,421.66 L410.0,422.25 L411.0,422.88 L412.0,423.54 L413.0,424.22 L414.0,424.89 L415.0,425.53 L416.0,426.14 L417.0,426.69 L418.0,427.17 L419.0,427.58 L420.0,427.88 L421.0,427.54 L422.0,427.12 L423.0,426.63 L424.0,426.07 L425.0,425.46 L426.0,424.81 L427.0,424.14 L428.0,423.47 L429.0,422.81 L430.0,422.18 L431.0,421.60 L432.0,421.08 L433.0,420.63 L434.0,420.25 L435.0,420.26 L436.0,420.64 L437.0,421.10 L438.0,421.62 L439.0,422.21 L440.0,422.84 L441.0,423.50 L442.0,424.17 L443.0,424.84 L444.0,425.49 L445.0,426.09 L446.0,426.65 L447.0,427.14 L448.0,427.56 L449.0,427.90 L450.0,427.57 L451.0,427.16 L452.0,426.67 L453.0,426.11 L454.0,425.50 L455.0,424.86 L456.0,424.19 L457.0,423.52 L458.0,422.86 L459.0,422.23 L460.0,421.64 L461.0,421.11 L462.0,420.66 L463.0,420.27 L464.0,420.24 L465.0,420.61 L466.0,421.06 L467.0,421.58 L468.0,422.16 L469.0,422.79 L470.0,423.45 L471.0,424.12 L472.0,424.79 L473.0,425.44 L474.0,426.05 L475.0,426.61 L476.0,427.11 L477.0,427.53 L478.0,427.87 L479.0,427.60 L480.0,427.19 L481.0,426.70 L482.0,426.15 L483.0,425.55 L484.0,424.90 L485.0,424.24 L486.0,423.56 L487.0,422.90 L488.0,422.27 L489.0,421.68 L490.0,421.15 L491.0,420.68 L492.0,420.30 L493.0,420.22 L494.0,420.58 L495.0,421.03 L496.0,421.55 L497.0,422.12 L498.0,422.75 L499.0,423.40 L500.0,424.08 L501.0,424.75 L502.0,425.40 L503.0,426.01 L504.0,426.58 L505.0,427.08 L506.0,427.50 L507.0,427.85 L508.0,427.62 L509.0,427.22 L510.0,426.74 L511.0,426.19 L512.0,425.59 L513.0,424.95 L514.0,424.28 L515.0,423.61 L516.0,422.95 L517.0,422.31 L518.0,421.72 L519.0,421.18 L520.0,420.71 L521.0,420.32 L522.0,420.20 L523.0,420.56 L524.0,421.00 L525.0,421.51 L526.0,422.08 L527.0,422.70 L528.0,423.36 L529.0,424.03 L530.0,424.70 L531.0,425.35 L532.0,425.97 L533.0,426.54 L534.0,427.04 L535.0,427.48 L536.0,427.83 L537.0,427.65 L538.0,427.25 L539.0,426.77 L540.0,426.23 L541.0,425.64 L542.0,425.00 L543.0,424.33 L544.0,423.66 L545.0,422.99 L546.0,422.35 L547.0,421.76 L548.0,421.22 L549.0,420.74 L550.0,420.35 L551.0,420.17 L552.0,420.53 L553.0,420.96 L554.0,421.47 L555.0,422.04 L556.0,422.66 L557.0,423.31 L558.0,423.98 L559.0,424.65 L560.0,425.31 L561.0,425.93 L562.0,426.50 L563.0,427.01 L564.0,427.45 L565.0,427.81 L566.0,427.67 L567.0,427.28 L568.0,426.81 L569.0,426.27 L570.0,425.68 L571.0,425.04 L572.0,424.38 L573.0,423.71 L574.0,423.04 L575.0,422.40 L576.0,421.80 L577.0,421.25 L578.0,420.78 L579.0,420.37 L580.0,420.15 L581.0,420.50 L582.0,420.93 L583.0,421.43 L584.0,422.00 L585.0,422.61 L586.0,423.26 L587.0,423.93 L588.0,424.61 L589.0,425.26 L590.0,425.89 L591.0,426.46 L592.0,426.98 L593.0,427.42 L594.0,427.79 L595.0,427.70 L596.0,427.31 L597.0,426.85 L598.0,426.31 L599.0,425.72 L600.0,425.09 L601.0,424.43 L602.0,423.75 L603.0,423.09 L604.0,422.44 L605.0,421.84 L606.0,421.29 L607.0,420.81 L608.0,420.40 L609.0,420.13 L610.0,420.47 L611.0,420.90 L612.0,421.39 L613.0,421.96 L614.0,422.57 L615.0,423.22 L616.0,423.89 L617.0,424.56 L618.0,425.22 L619.0,425.84 L620.0,426.42 L621.0,426.94 L622.0,427.39 L623.0,427.76 L624.0,427.72 L625.0,427.34 L626.0,426.88 L627.0,426.35 L628.0,425.77 L629.0,425.13 L630.0,424.47 L631.0,423.80 L632.0,423.13 L633.0,422.49 L634.0,421.88 L635.0,421.33 L636.0,420.84 L637.0,420.42 L638.0,420.11 L639.0,420.45 L640.0,420.87 L641.0,421.36 L642.0,421.91 L643.0,422.52 L644.0,423.17 L645.0,423.84 L646.0,424.51 L647.0,425.17 L648.0,425.80 L649.0,426.39 L650.0,426.91 L651.0,427.36 L652.0,427.74 L653.0,427.74 L654.0,427.37 L655.0,426.91 L656.0,426.39 L657.0,425.81 L658.0,425.18 L659.0,424.52 L660.0,423.85 L661.0,423.18 L662.0,422.53 L663.0,421.92 L664.0,421.36 L665.0,420.87 L666.0,420.45 L667.0,420.11 L668.0,420.42 L669.0,420.83 L670.0,421.32 L671.0,421.87 L672.0,422.48 L673.0,423.12 L674.0,423.79 L675.0,424.47 L676.0,425.13 L677.0,425.76 L678.0,426.35 L679.0,426.88 L680.0,427.33 L681.0,427.72 L682.0,427.77 L683.0,427.40 L684.0,426.95 L685.0,426.43 L686.0,425.85 L687.0,425.22 L688.0,424.57 L689.0,423.89 L690.0,423.22 L691.0,422.57 L692.0,421.96 L693.0,421.40 L694.0,420.90 L695.0,420.48 L696.0,420.13 L697.0,420.40 L698.0,420.80 L699.0,421.28 L700.0,421.83 L701.0,422.44 L702.0,423.08 L703.0,423.75 L704.0,424.42 L705.0,425.08 L706.0,425.72 L707.0,426.31 L708.0,426.84 L709.0,427.30 L710.0,427.69 L711.0,427.79 L712.0,427.43 L713.0,426.98 L714.0,426.47 L715.0,425.89 L716.0,425.27 L717.0,424.61 L718.0,423.94 L719.0,423.27 L720.0,422.62 L721.0,422.00 L722.0,421.44 L723.0,420.93 L724.0,420.51 L725.0,420.15 L726.0,420.37 L727.0,420.77 L728.0,421.25 L729.0,421.79 L730.0,422.39 L731.0,423.03 L732.0,423.70 L733.0,424.37 L734.0,425.04 L735.0,425.67 L736.0,426.27 L737.0,426.81 L738.0,427.27 L739.0,427.67 L740.0,427.81 L741.0,427.45 L742.0,427.02 L743.0,426.51 L744.0,425.93 L745.0,425.31 L746.0,424.66 L747.0,423.99 L748.0,423.32 L749.0,422.66 L750.0,422.04 L751.0,421.47 L752.0,420.97 L753.0,420.53 L754.0,420.18 L755.0,420.34 L756.0,420.74 L757.0,421.21 L758.0,421.75 L759.0,422.35 L760.0,422.99 L761.0,423.65 L762.0,424.33 L763.0,424.99 L764.0,425.63 L765.0,426.23 L766.0,426.77 L767.0,427.24 L768.0,427.64 L769.0,427.83 L770.0,427.48 L771.0,427.05 L772.0,426.54 L773.0,425.98 L774.0,425.36 L775.0,424.71 L776.0,424.04 L777.0,423.36 L778.0,422.71 L779.0,422.09 L780.0,421.51 L781.0,421.00 L782.0,420.56 L783.0,420.20 L784.0,420.32 L785.0,420.71 L786.0,421.18 L787.0,421.71 L788.0,422.31 L789.0,422.94 L790.0,423.60 L791.0,424.28 L792.0,424.94 L793.0,425.59 L794.0,426.19 L795.0,426.73 L796.0,427.21 L797.0,427.62 L798.0,427.86 L799.0,427.51 L800.0,427.08 L801.0,426.58 L802.0,426.02 L803.0,425.40 L804.0,424.75 L805.0,424.08 L806.0,423.41 L807.0,422.75 L808.0,422.13 L809.0,421.55 L810.0,421.03 L811.0,420.59 L812.0,420.22 L813.0,420.30 L814.0,420.68 L815.0,421.14 L816.0,421.67 L817.0,422.26 L818.0,422.90 L819.0,423.56 L820.0,424.23 L821.0,424.90 L822.0,425.54 L823.0,426.15 L824.0,426.70 L825.0,427.18 L826.0,427.59 L827.0,427.88 L828.0,427.54 L829.0,427.11 L830.0,426.62 L831.0,426.06 L832.0,425.45 L833.0,424.80 L834.0,424.13 L835.0,423.46 L836.0,422.80 L837.0,422.17 L838.0,421.59 L839.0,421.07 L840.0,420.62 L841.0,420.24 L842.0,420.27 L843.0,420.65 L844.0,421.11 L845.0,421.63 L846.0,422.22 L847.0,422.85 L848.0,423.51 L849.0,424.18 L850.0,424.85 L851.0,425.50 L852.0,426.11 L853.0,426.66 L854.0,427.15 L855.0,427.57 L856.0,427.90 L857.0,427.56 L858.0,427.15 L859.0,426.66 L860.0,426.10 L861.0,425.49 L862.0,424.85 L863.0,424.18 L864.0,423.50 L865.0,422.84 L866.0,422.21 L867.0,421.63 L868.0,421.10 L869.0,420.65 L870.0,420.27 L871.0,420.25 L872.0,420.62 L873.0,421.07 L874.0,421.60 L875.0,422.18 L876.0,422.80 L877.0,423.46 L878.0,424.14 L879.0,424.81 L880.0,425.45 L881.0,426.07 L882.0,426.62 L883.0,427.12 L884.0,427.54 L885.0,427.88 L886.0,427.59 L887.0,427.18 L888.0,426.69 L889.0,426.14 L890.0,425.54 L891.0,424.89 L892.0,424.22 L893.0,423.55 L894.0,422.89 L895.0,422.26 L896.0,421.67 L897.0,421.14 L898.0,420.68 L899.0,420.29 L900.0,420.22 L901.0,420.59 L902.0,421.04 L903.0,421.56 L904.0,422.13 L905.0,422.76 L906.0,423.42 L907.0,424.09 L908.0,424.76 L909.0,425.41 L910.0,426.02 L911.0,426.59 L912.0,427.09 L913.0,427.51 L914.0,427.86 L915.0,427.61 L916.0,427.21 L917.0,426.73 L918.0,426.18 L919.0,425.58 L920.0,424.94 L921.0,424.27 L922.0,423.60 L923.0,422.93 L924.0,422.30 L925.0,421.71 L926.0,421.17 L927.0,420.71 L928.0,420.32 L929.0,420.20 L930.0,420.56 L931.0,421.01 L932.0,421.52 L933.0,422.09 L934.0,422.71 L935.0,423.37 L936.0,424.04 L937.0,424.71 L938.0,425.37 L939.0,425.98 L940.0,426.55 L941.0,427.05 L942.0,427.49 L943.0,427.84 L944.0,427.64 L945.0,427.24 L946.0,426.76 L947.0,426.22 L948.0,425.62 L949.0,424.98 L950.0,424.32 L951.0,423.64 L952.0,422.98 L953.0,422.34 L954.0,421.75 L955.0,421.21 L956.0,420.74 L957.0,420.34 L958.0,420.18 L959.0,420.54 L960.0,420.97 L961.0,421.48 L962.0,422.05 L963.0,422.67 L964.0,423.32 L965.0,423.99 L966.0,424.67 L967.0,425.32 L968.0,425.94 L969.0,426.51 L970.0,427.02 L971.0,427.46 L972.0,427.82 L973.0,427.66 L974.0,427.27 L975.0,426.80 L976.0,426.26 L977.0,425.67 L978.0,425.03 L979.0,424.37 L980.0,423.69 L981.0,423.03 L982.0,422.39 L983.0,421.79 L984.0,421.24 L985.0,420.77 L986.0,420.37 L987.0,420.16 L988.0,420.51 L989.0,420.94 L990.0,421.44 L991.0,422.01 L992.0,422.62 L993.0,423.28 L994.0,423.95 L995.0,424.62 L996.0,425.28 L997.0,425.90 L998.0,426.47 L999.0,426.99 L1000.0,427.43 L1001.0,427.79 L1002.0,427.69 L1003.0,427.30 L1004.0,426.84 L1005.0,426.30 L1006.0,425.71 L1007.0,425.08 L1008.0,424.41 L1009.0,423.74 L1010.0,423.07 L1011.0,422.43 L1012.0,421.83 L1013.0,421.28 L1014.0,420.80 L1015.0,420.39 L1016.0,420.14 L1017.0,420.48 L1018.0,420.91 L1019.0,421.41 L1020.0,421.97 L1021.0,422.58 L1022.0,423.23 L1023.0,423.90 L1024.0,424.57 L1025.0,425.23 L1026.0,425.86 L1027.0,426.44 L1028.0,426.95 L1029.0,427.40 L1030.0,427.77 L1031.0,427.71 L1032.0,427.33 L1033.0,426.87 L1034.0,426.34 L1035.0,425.75 L1036.0,425.12 L1037.0,424.46 L1038.0,423.79 L1039.0,423.12 L1040.0,422.47 L1041.0,421.87 L1042.0,421.32 L1043.0,420.83 L1044.0,420.42 L1045.0,420.11 L1046.0,420.45 L1047.0,420.87 L1048.0,421.37 L1049.0,421.93 L1050.0,422.54 L1051.0,423.18 L1052.0,423.85 L1053.0,424.53 L1054.0,425.19 L1055.0,425.81 L1056.0,426.40 L1057.0,426.92 L1058.0,427.37 L1059.0,427.75 L1060.0,427.74 L1061.0,427.36 L1062.0,426.90 L1063.0,426.38 L1064.0,425.80 L1065.0,425.17 L1066.0,424.51 L1067.0,423.83 L1068.0,423.16 L1069.0,422.52 L1070.0,421.91 L1071.0,421.35 L1072.0,420.86 L1073.0,420.44 L1074.0,420.11 L1075.0,420.43 L1076.0,420.84 L1077.0,421.33 L1078.0,421.88 L1079.0,422.49 L1080.0,423.14 L1081.0,423.81 L1082.0,424.48 L1083.0,425.14 L1084.0,425.77 L1085.0,426.36 L1086.0,426.89 L1087.0,427.34 L1088.0,427.72 L1089.0,427.76 L1090.0,427.39 L1091.0,426.94 L1092.0,426.42 L1093.0,425.84 L1094.0,425.21 L1095.0,424.55 L1096.0,423.88 L1097.0,423.21 L1098.0,422.56 L1099.0,421.95 L1100.0,421.39 L1101.0,420.89 L1102.0,420.47 L1103.0,420.13 L1104.0,420.40 L1105.0,420.81 L1106.0,421.29 L1107.0,421.84 L1108.0,422.45 L1109.0,423.09 L1110.0,423.76 L1111.0,424.43 L1112.0,425.09 L1113.0,425.73 L1114.0,426.32 L1115.0,426.85 L1116.0,427.31 L1117.0,427.70 L1118.0,427.78 L1119.0,427.42 L1120.0,426.97 L1121.0,426.46 L1122.0,425.88 L1123.0,425.26 L1124.0,424.60 L1125.0,423.93 L1126.0,423.26 L1127.0,422.61 L1128.0,421.99 L1129.0,421.43 L1130.0,420.93 L1131.0,420.50 L1132.0,420.15 L1133.0,420.38 L1134.0,420.78 L1135.0,421.26 L1136.0,421.80 L1137.0,422.40 L1138.0,423.05 L1139.0,423.71 L1140.0,424.39 L1141.0,425.05 L1142.0,425.69 L1143.0,426.28 L1144.0,426.82 L1145.0,427.28 L1146.0,427.68 L1147.0,427.81 L1148.0,427.45 L1149.0,427.01 L1150.0,426.50 L1151.0,425.92 L1152.0,425.30 L1153.0,424.65 L1154.0,423.97 L1155.0,423.30 L1156.0,422.65 L1157.0,422.03 L1158.0,421.46 L1159.0,420.96 L1160.0,420.52 L1161.0,420.17 L1162.0,420.35 L1163.0,420.75 L1164.0,421.22 L1165.0,421.76 L1166.0,422.36 L1167.0,423.00 L1168.0,423.66 L1169.0,424.34 L1170.0,425.00 L1171.0,425.64 L1172.0,426.24 L1173.0,426.78 L1174.0,427.25 L1175.0,427.65 L1176.0,427.83 L1177.0,427.47 L1178.0,427.04 L1179.0,426.53 L1180.0,425.96 L1181.0,425.35 L1182.0,424.69 L1183.0,424.02 L1184.0,423.35 L1185.0,422.70 L1186.0,422.07 L1187.0,421.50 L1188.0,420.99 L1189.0,420.55 L1190.0,420.19 L1191.0,420.33 L1192.0,420.72 L1193.0,421.19 L1194.0,421.72 L1195.0,422.32 L1196.0,422.95 L1197.0,423.62 L1198.0,424.29 L1199.0,424.96 L1200.0,425.60 L1201.0,426.20 L1202.0,426.74" fill="none" stroke="#6f3a59" stroke-width="1.7" stroke-linejoin="round"/>
<path d="M270.0,553.31 L271.0,553.78 L272.0,554.20 L273.0,554.22 L274.0,553.80 L275.0,553.33 L276.0,552.81 L277.0,552.26 L278.0,551.67 L279.0,551.07 L280.0,550.45 L281.0,549.84 L282.0,549.25 L283.0,548.67 L284.0,548.14 L285.0,547.64 L286.0,547.19 L287.0,546.80 L288.0,547.19 L289.0,547.64 L290.0,548.14 L291.0,548.67 L292.0,549.25 L293.0,549.84 L294.0,550.45 L295.0,551.07 L296.0,551.67 L297.0,552.26 L298.0,552.81 L299.0,553.33 L300.0,553.80 L301.0,554.22 L302.0,554.20 L303.0,553.78 L304.0,553.31 L305.0,552.79 L306.0,552.23 L307.0,551.64 L308.0,551.04 L309.0,550.42 L310.0,549.81 L311.0,549.22 L312.0,548.65 L313.0,548.11 L314.0,547.62 L315.0,547.17 L316.0,546.82 L317.0,547.22 L318.0,547.66 L319.0,548.16 L320.0,548.70 L321.0,549.27 L322.0,549.87 L323.0,550.48 L324.0,551.10 L325.0,551.70 L326.0,552.29 L327.0,552.84 L328.0,553.35 L329.0,553.82 L330.0,554.24 L331.0,554.18 L332.0,553.76 L333.0,553.28 L334.0,552.76 L335.0,552.20 L336.0,551.61 L337.0,551.01 L338.0,550.39 L339.0,549.78 L340.0,549.19 L341.0,548.62 L342.0,548.08 L343.0,547.59 L344.0,547.15 L345.0,546.84 L346.0,547.24 L347.0,547.69 L348.0,548.19 L349.0,548.73 L350.0,549.30 L351.0,549.90 L352.0,550.52 L353.0,551.13 L354.0,551.73 L355.0,552.32 L356.0,552.87 L357.0,553.38 L358.0,553.84 L359.0,554.26 L360.0,554.16 L361.0,553.73 L362.0,553.26 L363.0,552.73 L364.0,552.17 L365.0,551.58 L366.0,550.98 L367.0,550.36 L368.0,549.75 L369.0,549.16 L370.0,548.59 L371.0,548.06 L372.0,547.57 L373.0,547.13 L374.0,546.86 L375.0,547.26 L376.0,547.71 L377.0,548.21 L378.0,548.76 L379.0,549.33 L380.0,549.93 L381.0,550.55 L382.0,551.16 L383.0,551.76 L384.0,552.34 L385.0,552.89 L386.0,553.40 L387.0,553.87 L388.0,554.28 L389.0,554.14 L390.0,553.71 L391.0,553.23 L392.0,552.71 L393.0,552.14 L394.0,551.55 L395.0,550.95 L396.0,550.33 L397.0,549.72 L398.0,549.13 L399.0,548.56 L400.0,548.03 L401.0,547.55 L402.0,547.11 L403.0,546.87 L404.0,547.28 L405.0,547.74 L406.0,548.24 L407.0,548.79 L408.0,549.36 L409.0,549.96 L410.0,550.58 L411.0,551.19 L412.0,551.79 L413.0,552.37 L414.0,552.92 L415.0,553.43 L416.0,553.89 L417.0,554.30 L418.0,554.12 L419.0,553.69 L420.0,553.20 L421.0,552.68 L422.0,552.11 L423.0,551.52 L424.0,550.91 L425.0,550.30 L426.0,549.69 L427.0,549.10 L428.0,548.54 L429.0,548.01 L430.0,547.52 L431.0,547.09 L432.0,546.89 L433.0,547.30 L434.0,547.76 L435.0,548.27 L436.0,548.81 L437.0,549.39 L438.0,549.99 L439.0,550.61 L440.0,551.22 L441.0,551.82 L442.0,552.40 L443.0,552.95 L444.0,553.45 L445.0,553.91 L446.0,554.32 L447.0,554.10 L448.0,553.66 L449.0,553.18 L450.0,552.65 L451.0,552.09 L452.0,551.49 L453.0,550.88 L454.0,550.27 L455.0,549.66 L456.0,549.07 L457.0,548.51 L458.0,547.98 L459.0,547.50 L460.0,547.07 L461.0,546.91 L462.0,547.32 L463.0,547.78 L464.0,548.29 L465.0,548.84 L466.0,549.42 L467.0,550.03 L468.0,550.64 L469.0,551.25 L470.0,551.85 L471.0,552.43 L472.0,552.97 L473.0,553.48 L474.0,553.93 L475.0,554.33 L476.0,554.08 L477.0,553.64 L478.0,553.15 L479.0,552.62 L480.0,552.06 L481.0,551.46 L482.0,550.85 L483.0,550.24 L484.0,549.63 L485.0,549.04 L486.0,548.48 L487.0,547.96 L488.0,547.48 L489.0,547.05 L490.0,546.93 L491.0,547.34 L492.0,547.81 L493.0,548.32 L494.0,548.87 L495.0,549.45 L496.0,550.06 L497.0,550.67 L498.0,551.28 L499.0,551.88 L500.0,552.46 L501.0,553.00 L502.0,553.50 L503.0,553.95 L504.0,554.35 L505.0,554.06 L506.0,553.62 L507.0,553.13 L508.0,552.60 L509.0,552.03 L510.0,551.43 L511.0,550.82 L512.0,550.21 L513.0,549.60 L514.0,549.01 L515.0,548.45 L516.0,547.93 L517.0,547.46 L518.0,547.03 L519.0,546.95 L520.0,547.37 L521.0,547.83 L522.0,548.35 L523.0,548.90 L524.0,549.48 L525.0,550.09 L526.0,550.70 L527.0,551.31 L528.0,551.91 L529.0,552.48 L530.0,553.03 L531.0,553.52 L532.0,553.97 L533.0,554.37 L534.0,554.04 L535.0,553.59 L536.0,553.10 L537.0,552.57 L538.0,552.00 L539.0,551.40 L540.0,550.79 L541.0,550.18 L542.0,549.57 L543.0,548.98 L544.0,548.43 L545.0,547.91 L546.0,547.43 L547.0,547.01 L548.0,546.97 L549.0,547.39 L550.0,547.86 L551.0,548.37 L552.0,548.93 L553.0,549.51 L554.0,550.12 L555.0,550.73 L556.0,551.34 L557.0,551.94 L558.0,552.51 L559.0,553.05 L560.0,553.55 L561.0,554.00 L562.0,554.39 L563.0,554.02 L564.0,553.57 L565.0,553.08 L566.0,552.54 L567.0,551.97 L568.0,551.37 L569.0,550.76 L570.0,550.15 L571.0,549.54 L572.0,548.96 L573.0,548.40 L574.0,547.88 L575.0,547.41 L576.0,546.99 L577.0,546.99 L578.0,547.41 L579.0,547.88 L580.0,548.40 L581.0,548.96 L582.0,549.54 L583.0,550.15 L584.0,550.76 L585.0,551.37 L586.0,551.97 L587.0,552.54 L588.0,553.08 L589.0,553.57 L590.0,554.02 L591.0,554.39 L592.0,554.00 L593.0,553.55 L594.0,553.05 L595.0,552.51 L596.0,551.94 L597.0,551.34 L598.0,550.73 L599.0,550.12 L600.0,549.51 L601.0,548.93 L602.0,548.37 L603.0,547.86 L604.0,547.39 L605.0,546.97 L606.0,547.01 L607.0,547.43 L608.0,547.91 L609.0,548.43 L610.0,548.98 L611.0,549.57 L612.0,550.18 L613.0,550.79 L614.0,551.40 L615.0,552.00 L616.0,552.57 L617.0,553.10 L618.0,553.59 L619.0,554.04 L620.0,554.37 L621.0,553.97 L622.0,553.52 L623.0,553.03 L624.0,552.48 L625.0,551.91 L626.0,551.31 L627.0,550.70 L628.0,550.09 L629.0,549.48 L630.0,548.90 L631.0,548.35 L632.0,547.83 L633.0,547.37 L634.0,546.95 L635.0,547.03 L636.0,547.46 L637.0,547.93 L638.0,548.45 L639.0,549.01 L640.0,549.60 L641.0,550.21 L642.0,550.82 L643.0,551.43 L644.0,552.03 L645.0,552.60 L646.0,553.13 L647.0,553.62 L648.0,554.06 L649.0,554.35 L650.0,553.95 L651.0,553.50 L652.0,553.00 L653.0,552.46 L654.0,551.88 L655.0,551.28 L656.0,550.67 L657.0,550.06 L658.0,549.45 L659.0,548.87 L660.0,548.32 L661.0,547.81 L662.0,547.34 L663.0,546.93 L664.0,547.05 L665.0,547.48 L666.0,547.96 L667.0,548.48 L668.0,549.04 L669.0,549.63 L670.0,550.24 L671.0,550.85 L672.0,551.46 L673.0,552.06 L674.0,552.62 L675.0,553.15 L676.0,553.64 L677.0,554.08 L678.0,554.33 L679.0,553.93 L680.0,553.48 L681.0,552.97 L682.0,552.43 L683.0,551.85 L684.0,551.25 L685.0,550.64 L686.0,550.03 L687.0,549.42 L688.0,548.84 L689.0,548.29 L690.0,547.78 L691.0,547.32 L692.0,546.91 L693.0,547.07 L694.0,547.50 L695.0,547.98 L696.0,548.51 L697.0,549.07 L698.0,549.66 L699.0,550.27 L700.0,550.88 L701.0,551.49 L702.0,552.09 L703.0,552.65 L704.0,553.18 L705.0,553.66 L706.0,554.10 L707.0,554.32 L708.0,553.91 L709.0,553.45 L710.0,552.95 L711.0,552.40 L712.0,551.82 L713.0,551.22 L714.0,550.61 L715.0,549.99 L716.0,549.39 L717.0,548.81 L718.0,548.27 L719.0,547.76 L720.0,547.30 L721.0,546.89 L722.0,547.09 L723.0,547.52 L724.0,548.01 L725.0,548.54 L726.0,549.10 L727.0,549.69 L728.0,550.30 L729.0,550.91 L730.0,551.52 L731.0,552.11 L732.0,552.68 L733.0,553.20 L734.0,553.69 L735.0,554.12 L736.0,554.30 L737.0,553.89 L738.0,553.43 L739.0,552.92 L740.0,552.37 L741.0,551.79 L742.0,551.19 L743.0,550.58 L744.0,549.96 L745.0,549.36 L746.0,548.79 L747.0,548.24 L748.0,547.74 L749.0,547.28 L750.0,546.87 L751.0,547.11 L752.0,547.55 L753.0,548.03 L754.0,548.56 L755.0,549.13 L756.0,549.72 L757.0,550.33 L758.0,550.95 L759.0,551.55 L760.0,552.14 L761.0,552.71 L762.0,553.23 L763.0,553.71 L764.0,554.14 L765.0,554.28 L766.0,553.87 L767.0,553.40 L768.0,552.89 L769.0,552.34 L770.0,551.76 L771.0,551.16 L772.0,550.55 L773.0,549.93 L774.0,549.33 L775.0,548.76 L776.0,548.21 L777.0,547.71 L778.0,547.26 L779.0,546.86 L780.0,547.13 L781.0,547.57 L782.0,548.06 L783.0,548.59 L784.0,549.16 L785.0,549.75 L786.0,550.36 L787.0,550.98 L788.0,551.58 L789.0,552.17 L790.0,552.73 L791.0,553.26 L792.0,553.73 L793.0,554.16 L794.0,554.26 L795.0,553.84 L796.0,553.38 L797.0,552.87 L798.0,552.32 L799.0,551.73 L800.0,551.13 L801.0,550.52 L802.0,549.90 L803.0,549.30 L804.0,548.73 L805.0,548.19 L806.0,547.69 L807.0,547.24 L808.0,546.84 L809.0,547.15 L810.0,547.59 L811.0,548.08 L812.0,548.62 L813.0,549.19 L814.0,549.78 L815.0,550.39 L816.0,551.01 L817.0,551.61 L818.0,552.20 L819.0,552.76 L820.0,553.28 L821.0,553.76 L822.0,554.18 L823.0,554.24 L824.0,553.82 L825.0,553.35 L826.0,552.84 L827.0,552.29 L828.0,551.70 L829.0,551.10 L830.0,550.48 L831.0,549.87 L832.0,549.27 L833.0,548.70 L834.0,548.16 L835.0,547.66 L836.0,547.22 L837.0,546.82 L838.0,547.17 L839.0,547.62 L840.0,548.11 L841.0,548.65 L842.0,549.22 L843.0,549.81 L844.0,550.42 L845.0,551.04 L846.0,551.64 L847.0,552.23 L848.0,552.79 L849.0,553.31 L850.0,553.78 L851.0,554.20 L852.0,554.22 L853.0,553.80 L854.0,553.33 L855.0,552.81 L856.0,552.26 L857.0,551.67 L858.0,551.07 L859.0,550.45 L860.0,549.84 L861.0,549.25 L862.0,548.67 L863.0,548.14 L864.0,547.64 L865.0,547.19 L866.0,546.80 L867.0,547.19 L868.0,547.64 L869.0,548.14 L870.0,548.67 L871.0,549.25 L872.0,549.84 L873.0,550.45 L874.0,551.07 L875.0,551.67 L876.0,552.26 L877.0,552.81 L878.0,553.33 L879.0,553.80 L880.0,554.22 L881.0,554.20 L882.0,553.78 L883.0,553.31 L884.0,552.79 L885.0,552.23 L886.0,551.64 L887.0,551.04 L888.0,550.42 L889.0,549.81 L890.0,549.22 L891.0,548.65 L892.0,548.11 L893.0,547.62 L894.0,547.17 L895.0,546.82 L896.0,547.22 L897.0,547.66 L898.0,548.16 L899.0,548.70 L900.0,549.27 L901.0,549.87 L902.0,550.48 L903.0,551.10 L904.0,551.70 L905.0,552.29 L906.0,552.84 L907.0,553.35 L908.0,553.82 L909.0,554.24 L910.0,554.18 L911.0,553.76 L912.0,553.28 L913.0,552.76 L914.0,552.20 L915.0,551.61 L916.0,551.01 L917.0,550.39 L918.0,549.78 L919.0,549.19 L920.0,548.62 L921.0,548.08 L922.0,547.59 L923.0,547.15 L924.0,546.84 L925.0,547.24 L926.0,547.69 L927.0,548.19 L928.0,548.73 L929.0,549.30 L930.0,549.90 L931.0,550.52 L932.0,551.13 L933.0,551.73 L934.0,552.32" fill="none" stroke="#6f3a59" stroke-width="1.85" stroke-linejoin="round" stroke-linecap="round"/>
<path d="M107.77,258.59A4.70,4.70 0 0 1 117.03,258.59A4.32,4.32 0 0 0 123.77,261.38A4.70,4.70 0 0 1 130.32,267.93A4.32,4.32 0 0 0 133.11,274.67A4.70,4.70 0 0 1 133.11,283.93A4.32,4.32 0 0 0 130.32,290.67A4.70,4.70 0 0 1 123.77,297.22A4.32,4.32 0 0 0 117.03,300.01A4.70,4.70 0 0 1 107.77,300.01A4.32,4.32 0 0 0 101.03,297.22A4.70,4.70 0 0 1 94.48,290.67A4.32,4.32 0 0 0 91.69,283.93A4.70,4.70 0 0 1 91.69,274.67A4.32,4.32 0 0 0 94.48,267.93A4.70,4.70 0 0 1 101.03,261.38A4.32,4.32 0 0 0 107.77,258.59Z" fill="#5fe048" stroke="#6f3a59" stroke-width="2.2"/>
<path d="M107.77,332.49A4.70,4.70 0 0 1 117.03,332.49A4.32,4.32 0 0 0 123.77,335.28A4.70,4.70 0 0 1 130.32,341.83A4.32,4.32 0 0 0 133.11,348.57A4.70,4.70 0 0 1 133.11,357.83A4.32,4.32 0 0 0 130.32,364.57A4.70,4.70 0 0 1 123.77,371.12A4.32,4.32 0 0 0 117.03,373.91A4.70,4.70 0 0 1 107.77,373.91A4.32,4.32 0 0 0 101.03,371.12A4.70,4.70 0 0 1 94.48,364.57A4.32,4.32 0 0 0 91.69,357.83A4.70,4.70 0 0 1 91.69,348.57A4.32,4.32 0 0 0 94.48,341.83A4.70,4.70 0 0 1 101.03,335.28A4.32,4.32 0 0 0 107.77,332.49Z" fill="#6f3a59" stroke="#6f3a59" stroke-width="2.2"/>
<path d="M696.07,258.59A4.70,4.70 0 0 1 705.33,258.59A4.32,4.32 0 0 0 712.07,261.38A4.70,4.70 0 0 1 718.62,267.93A4.32,4.32 0 0 0 721.41,274.67A4.70,4.70 0 0 1 721.41,283.93A4.32,4.32 0 0 0 718.62,290.67A4.70,4.70 0 0 1 712.07,297.22A4.32,4.32 0 0 0 705.33,300.01A4.70,4.70 0 0 1 696.07,300.01A4.32,4.32 0 0 0 689.33,297.22A4.70,4.70 0 0 1 682.78,290.67A4.32,4.32 0 0 0 679.99,283.93A4.70,4.70 0 0 1 679.99,274.67A4.32,4.32 0 0 0 682.78,267.93A4.70,4.70 0 0 1 689.33,261.38A4.32,4.32 0 0 0 696.07,258.59Z" fill="#8fce9c" stroke="#6f3a59" stroke-width="2.2"/>
<path d="M696.07,331.89A4.70,4.70 0 0 1 705.33,331.89A4.32,4.32 0 0 0 712.07,334.68A4.70,4.70 0 0 1 718.62,341.23A4.32,4.32 0 0 0 721.41,347.97A4.70,4.70 0 0 1 721.41,357.23A4.32,4.32 0 0 0 718.62,363.97A4.70,4.70 0 0 1 712.07,370.52A4.32,4.32 0 0 0 705.33,373.31A4.70,4.70 0 0 1 696.07,373.31A4.32,4.32 0 0 0 689.33,370.52A4.70,4.70 0 0 1 682.78,363.97A4.32,4.32 0 0 0 679.99,357.23A4.70,4.70 0 0 1 679.99,347.97A4.32,4.32 0 0 0 682.78,341.23A4.70,4.70 0 0 1 689.33,334.68A4.32,4.32 0 0 0 696.07,331.89Z" fill="#e09a96" stroke="#6f3a59" stroke-width="2.2"/>
<path d="M272.52,1033.45A7.20,7.20 0 0 1 286.88,1033.45A5.76,5.76 0 0 0 296.37,1037.38A7.20,7.20 0 0 1 306.52,1047.53A5.76,5.76 0 0 0 310.45,1057.02A7.20,7.20 0 0 1 310.45,1071.38A5.76,5.76 0 0 0 306.52,1080.87A7.20,7.20 0 0 1 296.37,1091.02A5.76,5.76 0 0 0 286.88,1094.95A7.20,7.20 0 0 1 272.52,1094.95A5.76,5.76 0 0 0 263.03,1091.02A7.20,7.20 0 0 1 252.88,1080.87A5.76,5.76 0 0 0 248.95,1071.38A7.20,7.20 0 0 1 248.95,1057.02A5.76,5.76 0 0 0 252.88,1047.53A7.20,7.20 0 0 1 263.03,1037.38A5.76,5.76 0 0 0 272.52,1033.45Z" fill="#5fe048" stroke="#6f3a59" stroke-width="1.9"/>
<path d="M752.48,957.70A7.45,7.45 0 0 1 767.32,957.70A5.99,5.99 0 0 0 777.14,961.76A7.45,7.45 0 0 1 787.64,972.26A5.99,5.99 0 0 0 791.70,982.08A7.45,7.45 0 0 1 791.70,996.92A5.99,5.99 0 0 0 787.64,1006.74A7.45,7.45 0 0 1 777.14,1017.24A5.99,5.99 0 0 0 767.32,1021.30A7.45,7.45 0 0 1 752.48,1021.30A5.99,5.99 0 0 0 742.66,1017.24A7.45,7.45 0 0 1 732.16,1006.74A5.99,5.99 0 0 0 728.10,996.92A7.45,7.45 0 0 1 728.10,982.08A5.99,5.99 0 0 0 732.16,972.26A7.45,7.45 0 0 1 742.66,961.76A5.99,5.99 0 0 0 752.48,957.70Z" fill="#8fce9c" stroke="#6f3a59" stroke-width="2.2"/>
<path d="M432.48,957.70A7.45,7.45 0 0 1 447.32,957.70A5.99,5.99 0 0 0 457.14,961.76A7.45,7.45 0 0 1 467.64,972.26A5.99,5.99 0 0 0 471.70,982.08A7.45,7.45 0 0 1 471.70,996.92A5.99,5.99 0 0 0 467.64,1006.74A7.45,7.45 0 0 1 457.14,1017.24A5.99,5.99 0 0 0 447.32,1021.30A7.45,7.45 0 0 1 432.48,1021.30A5.99,5.99 0 0 0 422.66,1017.24A7.45,7.45 0 0 1 412.16,1006.74A5.99,5.99 0 0 0 408.10,996.92A7.45,7.45 0 0 1 408.10,982.08A5.99,5.99 0 0 0 412.16,972.26A7.45,7.45 0 0 1 422.66,961.76A5.99,5.99 0 0 0 432.48,957.70Z" fill="#e09a96" stroke="#6f3a59" stroke-width="2.2"/>
<path d="M272.48,957.70A7.45,7.45 0 0 1 287.32,957.70A5.99,5.99 0 0 0 297.14,961.76A7.45,7.45 0 0 1 307.64,972.26A5.99,5.99 0 0 0 311.70,982.08A7.45,7.45 0 0 1 311.70,996.92A5.99,5.99 0 0 0 307.64,1006.74A7.45,7.45 0 0 1 297.14,1017.24A5.99,5.99 0 0 0 287.32,1021.30A7.45,7.45 0 0 1 272.48,1021.30A5.99,5.99 0 0 0 262.66,1017.24A7.45,7.45 0 0 1 252.16,1006.74A5.99,5.99 0 0 0 248.10,996.92A7.45,7.45 0 0 1 248.10,982.08A5.99,5.99 0 0 0 252.16,972.26A7.45,7.45 0 0 1 262.66,961.76A5.99,5.99 0 0 0 272.48,957.70Z" fill="#8fce9c" stroke="#6f3a59" stroke-width="2.2"/>
<path d="M112.52,958.75A7.20,7.20 0 0 1 126.88,958.75A5.76,5.76 0 0 0 136.37,962.68A7.20,7.20 0 0 1 146.52,972.83A5.76,5.76 0 0 0 150.45,982.32A7.20,7.20 0 0 1 150.45,996.68A5.76,5.76 0 0 0 146.52,1006.17A7.20,7.20 0 0 1 136.37,1016.32A5.76,5.76 0 0 0 126.88,1020.25A7.20,7.20 0 0 1 112.52,1020.25A5.76,5.76 0 0 0 103.03,1016.32A7.20,7.20 0 0 1 92.88,1006.17A5.76,5.76 0 0 0 88.95,996.68A7.20,7.20 0 0 1 88.95,982.32A5.76,5.76 0 0 0 92.88,972.83A7.20,7.20 0 0 1 103.03,962.68A5.76,5.76 0 0 0 112.52,958.75Z" fill="#5fe048" stroke="#6f3a59" stroke-width="1.9"/>
<path d="M752.48,883.40A7.45,7.45 0 0 1 767.32,883.40A5.99,5.99 0 0 0 777.14,887.46A7.45,7.45 0 0 1 787.64,897.96A5.99,5.99 0 0 0 791.70,907.78A7.45,7.45 0 0 1 791.70,922.62A5.99,5.99 0 0 0 787.64,932.44A7.45,7.45 0 0 1 777.14,942.94A5.99,5.99 0 0 0 767.32,947.00A7.45,7.45 0 0 1 752.48,947.00A5.99,5.99 0 0 0 742.66,942.94A7.45,7.45 0 0 1 732.16,932.44A5.99,5.99 0 0 0 728.10,922.62A7.45,7.45 0 0 1 728.10,907.78A5.99,5.99 0 0 0 732.16,897.96A7.45,7.45 0 0 1 742.66,887.46A5.99,5.99 0 0 0 752.48,883.40Z" fill="#e09a96" stroke="#6f3a59" stroke-width="2.2"/>
<path d="M592.48,883.40A7.45,7.45 0 0 1 607.32,883.40A5.99,5.99 0 0 0 617.14,887.46A7.45,7.45 0 0 1 627.64,897.96A5.99,5.99 0 0 0 631.70,907.78A7.45,7.45 0 0 1 631.70,922.62A5.99,5.99 0 0 0 627.64,932.44A7.45,7.45 0 0 1 617.14,942.94A5.99,5.99 0 0 0 607.32,947.00A7.45,7.45 0 0 1 592.48,947.00A5.99,5.99 0 0 0 582.66,942.94A7.45,7.45 0 0 1 572.16,932.44A5.99,5.99 0 0 0 568.10,922.62A7.45,7.45 0 0 1 568.10,907.78A5.99,5.99 0 0 0 572.16,897.96A7.45,7.45 0 0 1 582.66,887.46A5.99,5.99 0 0 0 592.48,883.40Z" fill="#e09a96" stroke="#6f3a59" stroke-width="2.2"/>
<path d="M432.48,883.40A7.45,7.45 0 0 1 447.32,883.40A5.99,5.99 0 0 0 457.14,887.46A7.45,7.45 0 0 1 467.64,897.96A5.99,5.99 0 0 0 471.70,907.78A7.45,7.45 0 0 1 471.70,922.62A5.99,5.99 0 0 0 467.64,932.44A7.45,7.45 0 0 1 457.14,942.94A5.99,5.99 0 0 0 447.32,947.00A7.45,7.45 0 0 1 432.48,947.00A5.99,5.99 0 0 0 422.66,942.94A7.45,7.45 0 0 1 412.16,932.44A5.99,5.99 0 0 0 408.10,922.62A7.45,7.45 0 0 1 408.10,907.78A5.99,5.99 0 0 0 412.16,897.96A7.45,7.45 0 0 1 422.66,887.46A5.99,5.99 0 0 0 432.48,883.40Z" fill="#e09a96" stroke="#6f3a59" stroke-width="2.2"/>
<path d="M112.48,883.40A7.45,7.45 0 0 1 127.32,883.40A5.99,5.99 0 0 0 137.14,887.46A7.45,7.45 0 0 1 147.64,897.96A5.99,5.99 0 0 0 151.70,907.78A7.45,7.45 0 0 1 151.70,922.62A5.99,5.99 0 0 0 147.64,932.44A7.45,7.45 0 0 1 137.14,942.94A5.99,5.99 0 0 0 127.32,947.00A7.45,7.45 0 0 1 112.48,947.00A5.99,5.99 0 0 0 102.66,942.94A7.45,7.45 0 0 1 92.16,932.44A5.99,5.99 0 0 0 88.10,922.62A7.45,7.45 0 0 1 88.10,907.78A5.99,5.99 0 0 0 92.16,897.96A7.45,7.45 0 0 1 102.66,887.46A5.99,5.99 0 0 0 112.48,883.40Z" fill="#8fce9c" stroke="#6f3a59" stroke-width="2.2"/>
<path d="M912.48,806.90A7.45,7.45 0 0 1 927.32,806.90A5.99,5.99 0 0 0 937.14,810.96A7.45,7.45 0 0 1 947.64,821.46A5.99,5.99 0 0 0 951.70,831.28A7.45,7.45 0 0 1 951.70,846.12A5.99,5.99 0 0 0 947.64,855.94A7.45,7.45 0 0 1 937.14,866.44A5.99,5.99 0 0 0 927.32,870.50A7.45,7.45 0 0 1 912.48,870.50A5.99,5.99 0 0 0 902.66,866.44A7.45,7.45 0 0 1 892.16,855.94A5.99,5.99 0 0 0 888.10,846.12A7.45,7.45 0 0 1 888.10,831.28A5.99,5.99 0 0 0 892.16,821.46A7.45,7.45 0 0 1 902.66,810.96A5.99,5.99 0 0 0 912.48,806.90Z" fill="#8fce9c" stroke="#6f3a59" stroke-width="2.2"/>
<path d="M752.52,807.95A7.20,7.20 0 0 1 766.88,807.95A5.76,5.76 0 0 0 776.37,811.88A7.20,7.20 0 0 1 786.52,822.03A5.76,5.76 0 0 0 790.45,831.52A7.20,7.20 0 0 1 790.45,845.88A5.76,5.76 0 0 0 786.52,855.37A7.20,7.20 0 0 1 776.37,865.52A5.76,5.76 0 0 0 766.88,869.45A7.20,7.20 0 0 1 752.52,869.45A5.76,5.76 0 0 0 743.03,865.52A7.20,7.20 0 0 1 732.88,855.37A5.76,5.76 0 0 0 728.95,845.88A7.20,7.20 0 0 1 728.95,831.52A5.76,5.76 0 0 0 732.88,822.03A7.20,7.20 0 0 1 743.03,811.88A5.76,5.76 0 0 0 752.52,807.95Z" fill="#5fe048" stroke="#6f3a59" stroke-width="1.9"/>
<path d="M592.52,807.95A7.20,7.20 0 0 1 606.88,807.95A5.76,5.76 0 0 0 616.37,811.88A7.20,7.20 0 0 1 626.52,822.03A5.76,5.76 0 0 0 630.45,831.52A7.20,7.20 0 0 1 630.45,845.88A5.76,5.76 0 0 0 626.52,855.37A7.20,7.20 0 0 1 616.37,865.52A5.76,5.76 0 0 0 606.88,869.45A7.20,7.20 0 0 1 592.52,869.45A5.76,5.76 0 0 0 583.03,865.52A7.20,7.20 0 0 1 572.88,855.37A5.76,5.76 0 0 0 568.95,845.88A7.20,7.20 0 0 1 568.95,831.52A5.76,5.76 0 0 0 572.88,822.03A7.20,7.20 0 0 1 583.03,811.88A5.76,5.76 0 0 0 592.52,807.95Z" fill="#5fe048" stroke="#6f3a59" stroke-width="1.9"/>
<path d="M1072.48,735.60A7.45,7.45 0 0 1 1087.32,735.60A5.99,5.99 0 0 0 1097.14,739.66A7.45,7.45 0 0 1 1107.64,750.16A5.99,5.99 0 0 0 1111.70,759.98A7.45,7.45 0 0 1 1111.70,774.82A5.99,5.99 0 0 0 1107.64,784.64A7.45,7.45 0 0 1 1097.14,795.14A5.99,5.99 0 0 0 1087.32,799.20A7.45,7.45 0 0 1 1072.48,799.20A5.99,5.99 0 0 0 1062.66,795.14A7.45,7.45 0 0 1 1052.16,784.64A5.99,5.99 0 0 0 1048.10,774.82A7.45,7.45 0 0 1 1048.10,759.98A5.99,5.99 0 0 0 1052.16,750.16A7.45,7.45 0 0 1 1062.66,739.66A5.99,5.99 0 0 0 1072.48,735.60Z" fill="#8fce9c" stroke="#6f3a59" stroke-width="2.2"/>
<path d="M912.48,735.60A7.45,7.45 0 0 1 927.32,735.60A5.99,5.99 0 0 0 937.14,739.66A7.45,7.45 0 0 1 947.64,750.16A5.99,5.99 0 0 0 951.70,759.98A7.45,7.45 0 0 1 951.70,774.82A5.99,5.99 0 0 0 947.64,784.64A7.45,7.45 0 0 1 937.14,795.14A5.99,5.99 0 0 0 927.32,799.20A7.45,7.45 0 0 1 912.48,799.20A5.99,5.99 0 0 0 902.66,795.14A7.45,7.45 0 0 1 892.16,784.64A5.99,5.99 0 0 0 888.10,774.82A7.45,7.45 0 0 1 888.10,759.98A5.99,5.99 0 0 0 892.16,750.16A7.45,7.45 0 0 1 902.66,739.66A5.99,5.99 0 0 0 912.48,735.60Z" fill="#8fce9c" stroke="#6f3a59" stroke-width="2.2"/>
<path d="M592.48,735.60A7.45,7.45 0 0 1 607.32,735.60A5.99,5.99 0 0 0 617.14,739.66A7.45,7.45 0 0 1 627.64,750.16A5.99,5.99 0 0 0 631.70,759.98A7.45,7.45 0 0 1 631.70,774.82A5.99,5.99 0 0 0 627.64,784.64A7.45,7.45 0 0 1 617.14,795.14A5.99,5.99 0 0 0 607.32,799.20A7.45,7.45 0 0 1 592.48,799.20A5.99,5.99 0 0 0 582.66,795.14A7.45,7.45 0 0 1 572.16,784.64A5.99,5.99 0 0 0 568.10,774.82A7.45,7.45 0 0 1 568.10,759.98A5.99,5.99 0 0 0 572.16,750.16A7.45,7.45 0 0 1 582.66,739.66A5.99,5.99 0 0 0 592.48,735.60Z" fill="#8fce9c" stroke="#6f3a59" stroke-width="2.2"/>
<path d="M432.48,735.60A7.45,7.45 0 0 1 447.32,735.60A5.99,5.99 0 0 0 457.14,739.66A7.45,7.45 0 0 1 467.64,750.16A5.99,5.99 0 0 0 471.70,759.98A7.45,7.45 0 0 1 471.70,774.82A5.99,5.99 0 0 0 467.64,784.64A7.45,7.45 0 0 1 457.14,795.14A5.99,5.99 0 0 0 447.32,799.20A7.45,7.45 0 0 1 432.48,799.20A5.99,5.99 0 0 0 422.66,795.14A7.45,7.45 0 0 1 412.16,784.64A5.99,5.99 0 0 0 408.10,774.82A7.45,7.45 0 0 1 408.10,759.98A5.99,5.99 0 0 0 412.16,750.16A7.45,7.45 0 0 1 422.66,739.66A5.99,5.99 0 0 0 432.48,735.60Z" fill="#8fce9c" stroke="#6f3a59" stroke-width="2.2"/>
<path d="M112.52,736.65A7.20,7.20 0 0 1 126.88,736.65A5.76,5.76 0 0 0 136.37,740.58A7.20,7.20 0 0 1 146.52,750.73A5.76,5.76 0 0 0 150.45,760.22A7.20,7.20 0 0 1 150.45,774.58A5.76,5.76 0 0 0 146.52,784.07A7.20,7.20 0 0 1 136.37,794.22A5.76,5.76 0 0 0 126.88,798.15A7.20,7.20 0 0 1 112.52,798.15A5.76,5.76 0 0 0 103.03,794.22A7.20,7.20 0 0 1 92.88,784.07A5.76,5.76 0 0 0 88.95,774.58A7.20,7.20 0 0 1 88.95,760.22A5.76,5.76 0 0 0 92.88,750.73A7.20,7.20 0 0 1 103.03,740.58A5.76,5.76 0 0 0 112.52,736.65Z" fill="#5fe048" stroke="#6f3a59" stroke-width="1.9"/>
<g id="icon" fill="none" stroke="#6f3a59" stroke-width="1.5" stroke-linecap="round" stroke-linejoin="round">
<path d="M851,548 L897,548" stroke-width="2"/>
<path d="M893.9,524 L894.8,547.5"/>
<path d="M901.6,502 C901.5,508 899.7,514 896.5,518.8 C892.5,525 886,531.8 880.2,531.8 C875,531.8 870.5,529.3 866.6,526.4"/>
<path d="M853.3,502.5 C854,506.5 855,509.5 856.3,512.5"/>
<path d="M850.6,500.3 C849.2,502.5 849.8,505.5 851.2,507.6 C852.2,509.2 853.3,510.6 854.6,511.9"/>
<path d="M904,500 C905.3,502.5 904.9,505.5 903.5,508 C902.8,509.3 902,510.4 901.2,511.3"/>
<circle cx="876.6" cy="468.6" r="13.4" fill="#6f3a59" stroke="none"/>
<path d="M853.1,503 C850.3,499.5 849.7,493.5 850.6,488.5 C852.3,479.5 857.5,472.5 863.5,468.5 L890,468 C896,472 902.3,479.5 904.2,488.5 C905.2,493.5 905,499 902.5,502.7 C894,499.5 883.5,491 878.6,478.6 C874.8,488 866,497.5 853.1,503 Z" fill="#6f3a59" stroke="#6f3a59" stroke-width="0.6"/>
<ellipse cx="868" cy="514" rx="12" ry="7.8" transform="rotate(30 868 514)" fill="#6f3a59" stroke="none"/>
<path d="M850.8,547.5 L850.4,534 C850.6,526 852,520.5 855.3,515.5 C857,513 858.8,511.8 860.2,511.2 C861.5,510.3 863,509.6 864,509.7 C865.3,509.9 866,511.5 866,513.5 L866.8,547.5 Z" fill="#f1efe9"/>
<path d="M856.4,528.5 C856.6,522 857.6,517.5 860.2,512"/>
<path d="M860.3,528.5 C860.5,521 861.5,515 863.3,510.6"/>
<path d="M863.3,528.5 C863.4,521.5 863.9,516 865,512"/>
<path d="M907.3,529.4 Q907.3,528.3 908.4,528.3 L929.7,528.3 Q930.8,528.3 930.8,529.4 L931.1,532.7 L906.9,532.7 Z" fill="#6f3a59" stroke="none"/>
<rect x="904.6" y="533.6" width="29.6" height="12.4" rx="0.9" fill="#6f3a59" stroke="none"/>
<rect x="905.8" y="538.4" width="14.6" height="1.6" fill="#f1efe9" stroke="none"/>
<path d="M909.8,527.8 C914,526.6 918.5,524.5 919.3,520 C919.6,518 919.6,516.5 919.7,515.3 L927.6,527.4" fill="#f1efe9" stroke-width="1.4"/>
</g>
</svg>
<div class="t" id="h1a" style="left:39.30px;top:40.54px;font-size:48px;font-weight:bold;transform:scaleX(1.1138);">Когда делать процедуры красоты</div>
<div class="t" id="h1b" style="left:39.30px;top:98.54px;font-size:48px;font-weight:bold;transform:scaleX(1.0915);">в марте 2026 года?</div>
<div class="t" id="l1" style="left:156.70px;top:261.24px;font-size:37px;transform:scaleX(0.9590);color:#535353;">Самые благоприятные дни</div>
<div class="t" id="l2" style="left:155.80px;top:334.99px;font-size:37px;transform:scaleX(0.9740);color:#535353;">Крайне неблагоприятные дни</div>
<div class="t" id="l3" style="left:743.30px;top:261.24px;font-size:37px;transform:scaleX(0.9640);color:#535353;">Благоприятные дни</div>
<div class="t" id="l4" style="left:743.30px;top:334.99px;font-size:37px;transform:scaleX(0.9665);color:#535353;">Неблагоприятные дни</div>
<div class="t" id="sec" style="left:266.20px;top:505.57px;font-size:44px;transform:scaleX(1.0070);color:#535353;">Косметические процедуры</div>
<div class="wd" style="left:71.5px">ПН</div>
<div class="wd" style="left:231.5px">ВТ</div>
<div class="wd" style="left:391.5px">СР</div>
<div class="wd" style="left:551.5px">ЧТ</div>
<div class="wd" style="left:711.5px">ПТ</div>
<div class="wd" style="left:871.5px">СБ</div>
<div class="wd" style="left:1031.5px">ВС</div>
<div class="n" style="left:1031.00px;top:667.73px"><span class="o">1</span></div>
<div class="n" style="left:70.00px;top:744.83px">2</div>
<div class="n" style="left:230.50px;top:744.83px">3</div>
<div class="n" style="left:390.50px;top:744.83px">4</div>
<div class="n" style="left:550.50px;top:744.83px">5</div>
<div class="n" style="left:710.00px;top:744.83px">6</div>
<div class="n" style="left:870.00px;top:744.83px">7</div>
<div class="n" style="left:1030.50px;top:744.83px">8</div>
<div class="n" style="left:70.00px;top:816.93px">9</div>
<div class="n" style="left:231.00px;top:816.93px"><span class="o">1</span>0</div>
<div class="n" style="left:391.00px;top:816.93px"><span class="o">1</span><span class="o">1</span></div>
<div class="n" style="left:551.00px;top:816.93px"><span class="o">1</span>2</div>
<div class="n" style="left:711.00px;top:816.93px"><span class="o">1</span>3</div>
<div class="n" style="left:871.00px;top:816.93px"><span class="o">1</span>4</div>
<div class="n" style="left:1031.00px;top:816.93px"><span class="o">1</span>5</div>
<div class="n" style="left:71.00px;top:891.23px"><span class="o">1</span>6</div>
<div class="n" style="left:231.00px;top:891.23px"><span class="o">1</span>7</div>
<div class="n" style="left:391.00px;top:891.23px"><span class="o">1</span>8</div>
<div class="n" style="left:551.00px;top:891.23px"><span class="o">1</span>9</div>
<div class="n" style="left:710.00px;top:891.23px">20</div>
<div class="n" style="left:870.50px;top:891.23px">2<span class="o">1</span></div>
<div class="n" style="left:1030.50px;top:891.23px">22</div>
<div class="n" style="left:70.00px;top:965.73px">23</div>
<div class="n" style="left:230.00px;top:965.73px">24</div>
<div class="n" style="left:390.00px;top:965.73px">25</div>
<div class="n" style="left:550.00px;top:965.73px">26</div>
<div class="n" style="left:710.50px;top:965.73px">27</div>
<div class="n" style="left:870.00px;top:965.73px">28</div>
<div class="n" style="left:1030.50px;top:965.73px">29</div>
<div class="n" style="left:70.00px;top:1040.53px">30</div>
<div class="n" style="left:230.50px;top:1040.53px">3<span class="o">1</span></div>
<div class="t" id="ft" style="left:54.20px;top:1129.76px;font-size:27.5px;letter-spacing:0.25px;color:#535353;">Подготовлено на основе информации из открытых источников</div>
</body></html>
